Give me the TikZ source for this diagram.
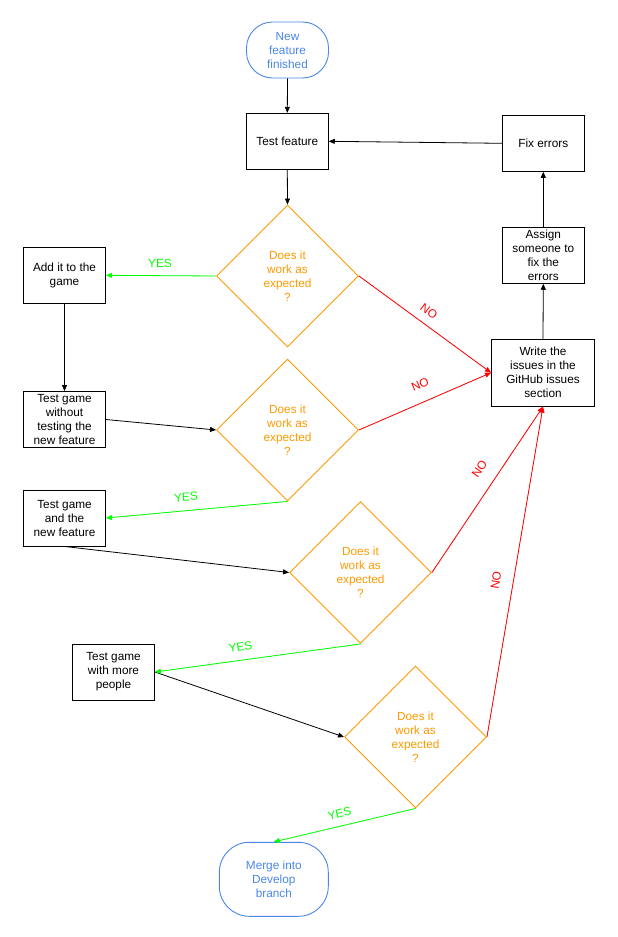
\documentclass[tikz,border=0pt]{standalone}
\usepackage{fontspec}
\setmainfont{Liberation Sans}
\usetikzlibrary{shapes.geometric,arrows.meta}
\definecolor{gblue}{HTML}{4A86E8}
\definecolor{gorange}{HTML}{FF9900}
\definecolor{ggreen}{HTML}{00FF00}
\definecolor{gred}{HTML}{FF0000}
\begin{document}
\begin{tikzpicture}[x=1pt,y=-1pt,
  font=\fontsize{11.8}{14}\selectfont,
  box/.style={draw, line width=0.9pt, minimum width=82pt, minimum height=56pt, inner sep=1pt, align=center},
  term/.style={draw=gblue, text=gblue, line width=0.9pt, align=center, inner sep=0pt},
  dec/.style={diamond, aspect=1, draw=gorange, text=gorange, line width=0.9pt, minimum width=142pt, minimum height=142pt, inner sep=0pt, align=center},
  arr/.style={-{Triangle[length=6pt,width=5pt]}, line width=0.8pt},
  yesarr/.style={arr, draw=ggreen, fill=ggreen},
  noarr/.style={arr, draw=gred, fill=gred},
  yeslab/.style={inner sep=0pt, text=ggreen},
  nolab/.style={inner sep=0pt, text=gred}]
\useasboundingbox (0,0) rectangle (618,937);

\node[term, minimum width=82pt, minimum height=56pt, rounded corners=26pt] (start) at (287.5,50) {New\\feature\\finished};
\node[box] (tf) at (287.3,141.3) {Test feature};
\node[box] (fix) at (543.3,143.3) {Fix errors};
\node[box] (assign) at (543.3,255.3) {Assign\\someone to\\fix the\\errors};
\node[box, minimum width=103pt, minimum height=67pt] (write) at (543,372.7) {Write the\\issues in the\\GitHub issues\\section};
\node[dec] (d1) at (287.5,276) {Does it\\work as\\expected\\?};
\node[box] (add) at (64.5,275.3) {Add it to the\\game};
\node[box] (tg1) at (64.5,419.5) {Test game\\without\\testing the\\new feature};
\node[dec] (d2) at (287.5,430) {Does it\\work as\\expected\\?};
\node[box] (tg2) at (64.5,518) {Test game\\and the\\new feature};
\node[dec] (d3) at (360.5,572.5) {Does it\\work as\\expected\\?};
\node[box] (tg3) at (113.5,672) {Test game\\with more\\people};
\node[dec] (d4) at (415.5,737) {Does it\\work as\\expected\\?};
\node[term, minimum width=109pt, minimum height=74pt, rounded corners=30pt] (merge) at (273.8,879.3) {Merge into\\Develop\\branch};

\draw[arr] (start.south) -- (tf.north);
\draw[arr] (tf.south) -- (d1.north);
\draw[arr] (fix.west) -- (tf.east);
\draw[arr] (write.north) -- (assign.south);
\draw[arr] (assign.north) -- (fix.south);
\draw[arr] (add.south) -- (tg1.north);
\draw[arr] (tg1.east) -- (d2.west);
\draw[arr] (tg2.south) -- (d3.west);
\draw[arr] (tg3.east) -- (d4.west);

\draw[yesarr] (d1.west) -- (add.east);
\draw[yesarr] (d2.south) -- (tg2.east);
\draw[yesarr] (d3.south) -- (tg3.east);
\draw[yesarr] (d4.south) -- (merge.north);

\draw[noarr] (d1.east) -- (write.west);
\draw[noarr] (d2.east) -- (write.west);
\draw[noarr] (d3.east) -- (write.south);
\draw[noarr] (d4.east) -- (write.south);

\node[yeslab] (y1) at (160,263) {YES};
\node[yeslab, rotate=5] (y2) at (186,497) {YES};
\node[yeslab, rotate=8] (y3) at (240.5,646.7) {YES};
\node[yeslab, rotate=14] (y4) at (339.5,813.5) {YES};
\node[nolab, rotate=-35.7] (n1) at (429,311) {NO};
\node[nolab, rotate=23.5] (n2) at (420,384.5) {NO};
\node[nolab, rotate=56] (n3) at (479.5,468.5) {NO};
\node[nolab, rotate=80.4] (n4) at (496,580.5) {NO};
\end{tikzpicture}
\end{document}
